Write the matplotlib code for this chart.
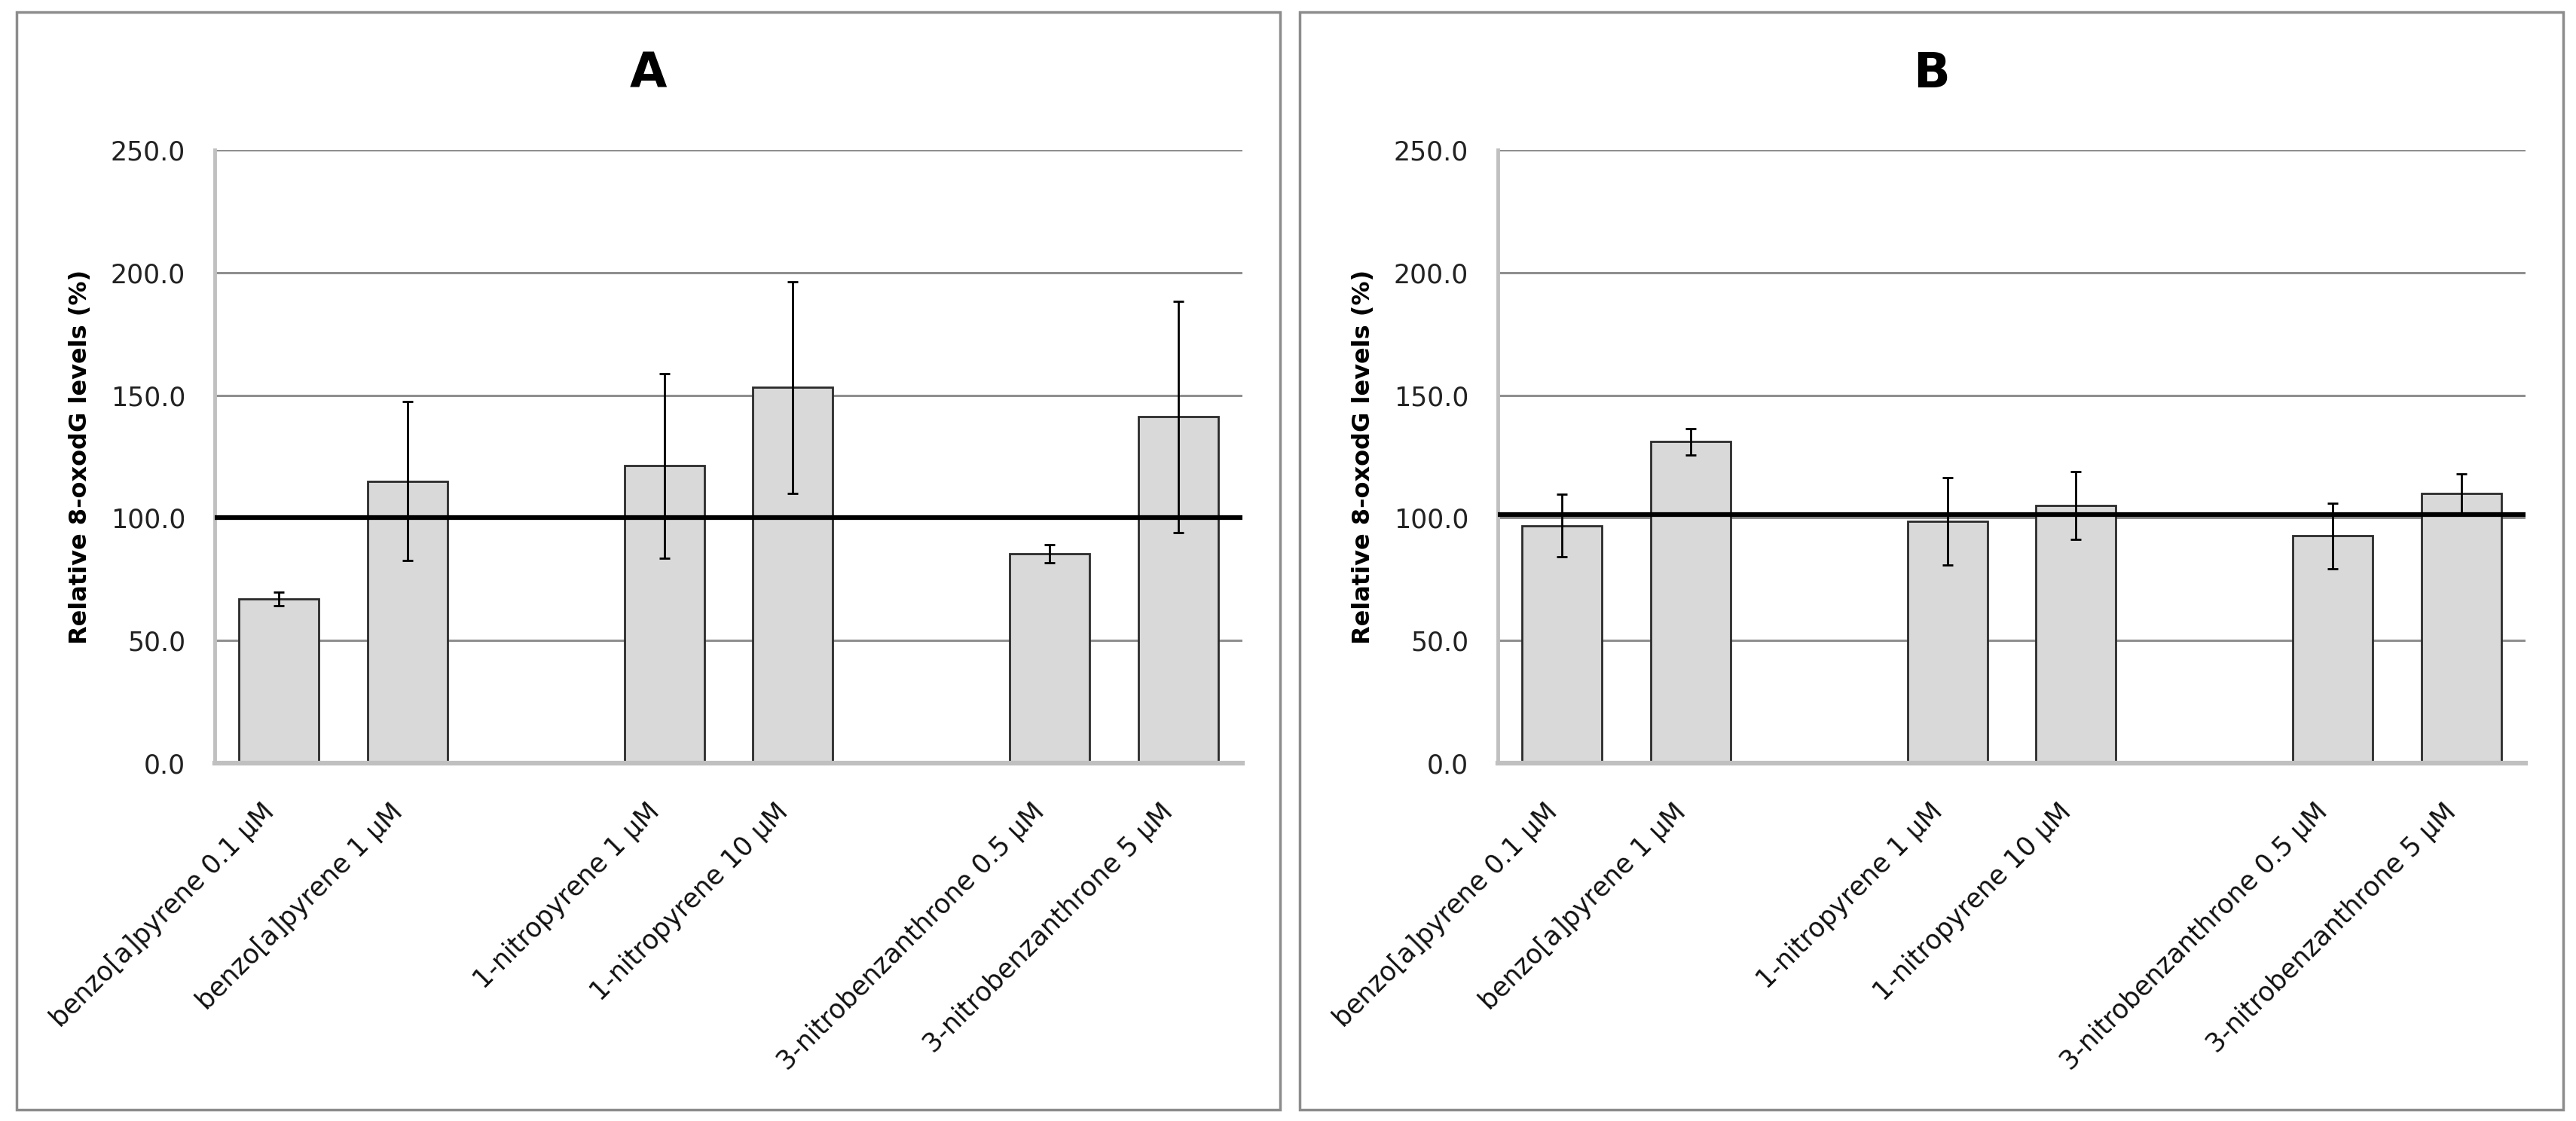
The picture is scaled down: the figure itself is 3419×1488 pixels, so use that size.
import numpy as np
import matplotlib
matplotlib.use("Agg")
import matplotlib.pyplot as plt
from matplotlib.patches import Rectangle

# categories (blank slots separate the compound groups)
categories = ['benzo[a]pyrene 0.1 µM', 'benzo[a]pyrene 1 µM', '',
              '1-nitropyrene 1 µM', '1-nitropyrene 10 µM', '',
              '3-nitrobenzanthrone 0.5 µM', '3-nitrobenzanthrone 5 µM']

# panel A
values_a = [67.0, 114.9, np.nan, 121.2, 153.2, np.nan, 85.4, 141.2]
errors_a = [2.7, 32.4, np.nan, 37.6, 43.1, np.nan, 3.6, 47.2]
control_a = 100.0

# panel B
values_b = [96.8, 131.0, np.nan, 98.5, 105.0, np.nan, 92.6, 109.8]
errors_b = [12.8, 5.5, np.nan, 17.8, 13.9, np.nan, 13.3, 8.2]
control_b = 101.2

y_ticks = [0, 50, 100, 150, 200, 250]

W, H = 3419, 1488
fig = plt.figure(figsize=(W / 100, H / 100), dpi=100)
fig.patch.set_facecolor('white')


def draw_panel(frame_left, title, values, errors, control):
    # grey border round the whole panel
    fig.patches.append(Rectangle((frame_left / W, 1 - 1473 / H), 1677 / W, 1457 / H,
                                 transform=fig.transFigure, fill=False,
                                 edgecolor='#8c8c8c', linewidth=2.5))
    ax_left = frame_left + 263
    ax = fig.add_axes([ax_left / W, 1 - 1013 / H, 1364 / W, 814 / H])
    x = np.arange(len(categories))

    ax.yaxis.grid(True, color='#8f8f8f', linewidth=2.2, zorder=0)
    ax.set_axisbelow(True)
    ax.bar(x, values, width=0.62, color='#d9d9d9', edgecolor='#2b2b2b',
           linewidth=2.0, zorder=2)
    ax.errorbar(x, values, yerr=errors, fmt='none', ecolor='black',
                elinewidth=2.0, capsize=5, capthick=2.0, zorder=4)
    ax.axhline(control, color='black', linewidth=4.5, zorder=3)

    ax.set_xlim(-0.5, len(categories) - 0.5)
    ax.set_ylim(0, 250)
    ax.set_yticks(y_ticks)
    ax.set_yticklabels(['%.1f' % t for t in y_ticks], fontsize=25, color='#222222')
    ax.set_xticks(x)
    ax.set_xticklabels(categories, rotation=45, ha='right', fontsize=25,
                       color='#111111')
    ax.tick_params(axis='both', length=0)
    ax.tick_params(axis='y', pad=28)
    ax.tick_params(axis='x', pad=34)

    for side in ['top', 'right']:
        ax.spines[side].set_visible(False)
    ax.spines['left'].set_color('#c0c0c0')
    ax.spines['left'].set_linewidth(3.5)
    ax.spines['bottom'].set_color('#c0c0c0')
    ax.spines['bottom'].set_linewidth(4.5)

    ax.set_ylabel('Relative 8-oxodG levels (%)', fontsize=23, fontweight='bold')
    ax.yaxis.set_label_coords((frame_left + 100 - ax_left) / 1364, 0.5)

    fig.text((frame_left + 1677 / 2) / W, 1 - 98 / H, title, fontsize=46,
             fontweight='bold', ha='center', va='center')
    return ax


draw_panel(22, 'A', values_a, errors_a, control_a)
draw_panel(1725, 'B', values_b, errors_b, control_b)

fig.savefig('out.png', dpi=100, facecolor='white')
